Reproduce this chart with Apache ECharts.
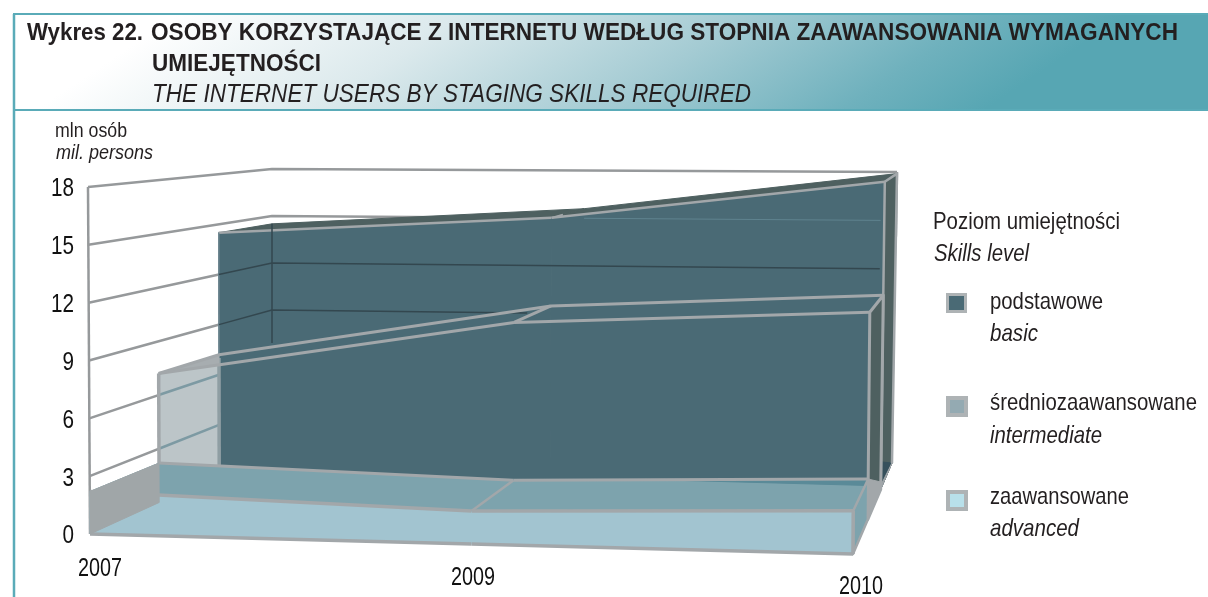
<!DOCTYPE html>
<html>
<head>
<meta charset="utf-8">
<title>Wykres 22</title>
<script src="https://cdn.jsdelivr.net/npm/echarts@6/dist/echarts.min.js"></script>
<style>
  html, body { margin: 0; padding: 0; background: #fff; }
  #chart { width: 1208px; height: 597px; }
</style>
</head>
<body>
<div id="chart"></div>
<script>
// dane (mln osob)
var years = ["2007", "2009", "2010"];
var basic = [14.5, 15.6, 17.9];
var intermediate = [7.2, 10.4, 11.3];
var advanced = [2.2, 1.7, 2.2];
var yTicks = [0, 3, 6, 9, 12, 15, 18];

var FONT = "'Liberation Sans', Arial, sans-serif";
var GRID = { left: 90, top: 189, width: 763, height: 347 };

// naroza pudelka 3D: [lewy, prawy] dla przodu/tylu, dol/gora
var BOX = {
  f0: [[90, 534], [853, 554]],
  f1: [[88, 187], [855, 200]],
  b0: [[272, 451], [892, 463]],
  b1: [[272, 169], [897, 172]]
};
var DEPTH = { adv: [0, 0.38], mid: [0.38, 0.71], bas: [0.71, 1] };

var GRAY = "#a2a7aa";
var C_BASIC = "#4a6a75";
var C_SIDE = "#4e6060";
var C_MID = "#7da3ad";
var C_ADV = "#a2c4d0";

var measureCtx = document.createElement("canvas").getContext("2d");

function mix(a, b, k) {
  return [a[0] + (b[0] - a[0]) * k, a[1] + (b[1] - a[1]) * k];
}
// t, v 0..1 (z osi), d 0..1 (glebokosc)
function project(t, v, d) {
  var f = mix(mix(BOX.f0[0], BOX.f0[1], t), mix(BOX.f1[0], BOX.f1[1], t), v);
  var b = mix(mix(BOX.b0[0], BOX.b0[1], t), mix(BOX.b1[0], BOX.b1[1], t), v);
  return mix(f, b, d);
}
// przez osie wykresu: kategoria + wartosc -> t, v
function at(api, i, val, d) {
  var c = api.coord([i, val]);
  return project((c[0] - GRID.left) / GRID.width, (GRID.top + GRID.height - c[1]) / GRID.height, d);
}
function poly(points, fill, stroke, w) {
  return {
    type: "polygon",
    shape: { points: points },
    style: { fill: fill, stroke: stroke || fill, lineWidth: w || 1, lineJoin: "round" }
  };
}
function line(points, stroke, w) {
  return {
    type: "polyline",
    shape: { points: points },
    style: { fill: null, stroke: stroke, lineWidth: w, lineJoin: "round" }
  };
}
// tekst zwezony do szerokosci z oryginalu
function label(x, y, text, size, width, opts) {
  opts = opts || {};
  var font = (opts.italic ? "italic " : "") + (opts.bold ? "bold " : "") + size + "px " + FONT;
  measureCtx.font = font;
  return {
    type: "text",
    x: x,
    y: y,
    scaleX: width / measureCtx.measureText(text).width,
    z: 20,
    style: {
      text: text,
      x: 0,
      y: 0,
      align: opts.align || "left",
      verticalAlign: "middle",
      font: font,
      fill: opts.fill || "#231f20"
    }
  };
}

// sciany, linie siatki i etykiety osi Y
function renderWalls(params, api) {
  var tick = api.value(1);
  var items = [];
  if (tick > 0) {
    items.push(line([at(api, 0, tick, 0), at(api, 0, tick, 1), at(api, 2, tick, 1)], "#96999b", 2.5));
  }
  if (params.dataIndex === 0) {
    items.push(line([at(api, 0, 0, 0), at(api, 0, 18, 0)], "#96999b", 2.5));
    items.push(line([at(api, 2, 14, 1), at(api, 2, 18, 1)], "#96999b", 2.5));
  }
  var p = at(api, 0, tick, 0);
  items.push(label(74, p[1] + 2.5, String(tick), 25, String(tick).length * 11.5, { align: "right", fill: "#111" }));
  return { type: "group", children: items };
}

// sciana przednia warstwy srodkowej (jasna, pod warstwa podstawowa)
function renderMidPanel(params, api) {
  var i = params.dataIndex;
  if (i === years.length - 1) return;
  var d = DEPTH.mid[0];
  var items = [poly([at(api, i, 0, d), at(api, i, intermediate[i], d), at(api, i + 1, intermediate[i + 1], d), at(api, i + 1, 0, d)], "#bcc5c8")];
  if (i === 0) {
    yTicks.forEach(function (tk) {
      if (tk > 0 && tk < intermediate[0]) {
        items.push(line([at(api, 0, tk, DEPTH.mid[0]), at(api, 0, tk, DEPTH.mid[1])], "#7d9aa3", 2.5));
      }
    });
    items.push(line([at(api, 0, 2, d), at(api, 0, intermediate[0], d)], GRAY, 3.5));
  }
  return { type: "group", children: items };
}

function renderBasic(params, api) {
  var i = params.dataIndex, last = years.length - 1;
  var d0 = DEPTH.bas[0], d1 = DEPTH.bas[1];
  var items = [];
  if (i < last) {
    items.push(poly([at(api, i, basic[i], d0), at(api, i, basic[i], d1), at(api, i + 1, basic[i + 1], d1), at(api, i + 1, basic[i + 1], d0)], C_SIDE));
    items.push(poly([at(api, i, 0, d0), at(api, i, basic[i], d0), at(api, i + 1, basic[i + 1], d0), at(api, i + 1, 0, d0)], C_BASIC));
    items.push(line([at(api, i, basic[i], d0), at(api, i + 1, basic[i + 1], d0)], GRAY, 2.5));
    if (i === 1) {
      var r = at(api, 1, basic[1], d0);
      items.push(line([r, mix(r, at(api, 1, basic[1], d1), 0.35)], GRAY, 2));
    }
  } else {
    items.push(poly([at(api, i, 0, d0), at(api, i, basic[i], d0), at(api, i, basic[i], d1), at(api, i, 0, d1)], C_SIDE));
    items.push(poly([at(api, i, 0, d1), at(api, i, 1.6, d0), at(api, i, 0, d0)], "#36505c"));
    items.push(line([at(api, i, 0, d0), at(api, i, basic[i], d0), at(api, i, basic[i], d1), at(api, i, 0, d1)], GRAY, 2.5));
    // lewa krawedz warstwy
    items.push(line([at(api, 0, 7.2, d0), at(api, 0, basic[0], d0)], "#6f8791", 1.5));
    items.push(line([at(api, 0, 0.5, d0), at(api, 0, 7, d0)], "#8f9ea3", 3.5));
    // linie siatki widoczne przez warstwe
    items.push(line([at(api, 0, 6.9, 1), at(api, 0, basic[0], 1)], "#33474f", 1.5));
    items.push(line([at(api, 0, 12, d0), at(api, 0, 12, 1), mix(at(api, 0, 12, 1), at(api, 2, 12, 1), 0.975)], "#33474f", 1.5));
    items.push(line([at(api, 0, 9, d0), at(api, 0, 9, 1), mix(at(api, 0, 9, 1), at(api, 1, 9, 1), 0.82)], "#33474f", 1.5));
    items.push(line([at(api, 1, 15, 1), mix(at(api, 1, 15, 1), at(api, 2, 15, 1), 0.95)], "#5f838f", 1));
  }
  return { type: "group", children: items };
}

function renderMid(params, api) {
  var i = params.dataIndex, last = years.length - 1;
  var d0 = DEPTH.mid[0], d1 = DEPTH.mid[1];
  var items = [];
  if (i === 0) {
    var a = at(api, 0, intermediate[0], d0), b = at(api, 1, intermediate[1], d0);
    var c = at(api, 0, intermediate[0], d1);
    var k = (c[0] - a[0]) / (b[0] - a[0]);
    items.push(poly([a, c, mix(a, b, k)], "#a7adb0"));
  }
  if (i < last) {
    items.push(line([at(api, i, intermediate[i], d0), at(api, i + 1, intermediate[i + 1], d0)], GRAY, 3));
    items.push(line([at(api, i, intermediate[i], d1), at(api, i + 1, intermediate[i + 1], d1)], GRAY, 3));
  }
  if (i === last) {
    items.push(poly([at(api, i, 0, d0), at(api, i, intermediate[i], d0), at(api, i, intermediate[i], d1), at(api, i, 0, d1)], C_SIDE, GRAY, 3));
  } else {
    items.push(line([at(api, i, intermediate[i], d0), at(api, i, intermediate[i], d1)], GRAY, 3));
  }
  return { type: "group", children: items };
}

function renderAdvanced(params, api) {
  var i = params.dataIndex, last = years.length - 1;
  var d0 = DEPTH.adv[0], d1 = DEPTH.adv[1];
  var items = [];
  if (i === last) {
    // podloga z prawej strony
    items.push(poly([at(api, i, 0, 0), at(api, i, 0, 1), at(api, i, 0.2, 0.75), at(api, i, 2.2, 0.38)], GRAY));
  }
  if (i < last) {
    items.push(poly([at(api, i, 0, d0), at(api, i, advanced[i], d0), at(api, i + 1, advanced[i + 1], d0), at(api, i + 1, 0, d0)], C_ADV));
    items.push(poly([at(api, i, advanced[i], d0), at(api, i, advanced[i], d1), at(api, i + 1, advanced[i + 1], d1), at(api, i + 1, advanced[i + 1], d0)], C_MID));
    if (i === 1) {
      // ciemniejszy klin przy tylnej krawedzi
      var q = at(api, 2, advanced[2], d1);
      items.push(poly([mix(at(api, 1, advanced[1], d1), q, 0.4), q, at(api, 2, advanced[2] - 0.35, d1)], "#5a8a98"));
    }
    items.push(line([at(api, i, 0, d0), at(api, i + 1, 0, d0)], GRAY, 3.5));
    items.push(line([at(api, i, advanced[i], d0), at(api, i + 1, advanced[i + 1], d0)], GRAY, 3.5));
    items.push(line([at(api, i, advanced[i], d1), at(api, i + 1, advanced[i + 1], d1)], GRAY, 3));
  }
  if (i === 1) {
    items.push(line([at(api, i, advanced[i], d0), at(api, i, advanced[i], d1)], GRAY, 2.5));
  }
  if (i === 0) {
    items.push(poly([at(api, i, 0, d0), at(api, i, advanced[i], d0), at(api, i, advanced[i], d1), at(api, i, 0, d1)], "#a0a6a8"));
  }
  if (i === last) {
    items.push(poly([at(api, i, 0, d0), at(api, i, advanced[i], d0), at(api, i, advanced[i], d1), at(api, i, 0, d1)], C_MID, GRAY, 2.5));
    items.push(line([at(api, i, 0, d0), at(api, i, advanced[i], d0)], GRAY, 3.5));
  }
  // etykieta roku pod przednia krawedzia
  var p = at(api, i, 0, 0);
  items.push(label(p[0] + [10, 1.5, 8][i], p[1] + [35, 34, 33][i], years[i], 25, 44, { align: "center", fill: "#111" }));
  return { type: "group", children: items };
}

function rows(values) {
  return years.map(function (y, i) { return [i, values[i]]; });
}
function custom(name, values, render, z) {
  return {
    name: name,
    type: "custom",
    coordinateSystem: "cartesian2d",
    clip: false,
    silent: true,
    z: z,
    data: rows(values),
    renderItem: render
  };
}
function legendEntry(name, top, color, border) {
  return {
    data: [name],
    left: 946,
    top: top,
    padding: 0,
    selectedMode: false,
    itemWidth: 18,
    itemHeight: 17,
    icon: "rect",
    itemStyle: { color: color, borderColor: "#aeb3b5", borderWidth: border },
    formatter: function () { return ""; }
  };
}

var chart = echarts.init(document.getElementById("chart"));
var option = {
  animation: false,
  backgroundColor: "#fff",
  grid: { left: GRID.left, top: GRID.top, width: GRID.width, height: GRID.height },
  xAxis: { type: "category", data: years, boundaryGap: false, show: false },
  yAxis: {
    type: "value",
    min: 0,
    max: 18,
    interval: 3,
    splitLine: { show: false },
    axisLine: { show: false },
    axisTick: { show: false },
    axisLabel: { show: false }
  },
  legend: [
    legendEntry("podstawowe", 293, C_BASIC, 3),
    legendEntry("średniozaawansowane", 396, "#94aab2", 4),
    legendEntry("zaawansowane", 490, "#b8e0ea", 4)
  ],
  series: [
    {
      name: "siatka",
      type: "custom",
      coordinateSystem: "cartesian2d",
      clip: false,
      silent: true,
      z: 1,
      data: yTicks.map(function (t) { return [0, t]; }),
      renderItem: renderWalls
    },
    custom("panel", intermediate, renderMidPanel, 2),
    custom("podstawowe", basic, renderBasic, 3),
    custom("średniozaawansowane", intermediate, renderMid, 4),
    custom("zaawansowane", advanced, renderAdvanced, 5)
  ],
  graphic: {
    elements: [
      {
        type: "rect",
        shape: { x: 14, y: 14, width: 1194, height: 96 },
        style: {
          fill: new echarts.graphic.LinearGradient(200, 0, 492, 438, [
            { offset: 0, color: "#ffffff" },
            { offset: 0.3, color: "#dbe9ec" },
            { offset: 0.6, color: "#a4cbd3" },
            { offset: 0.85, color: "#6fb1bd" },
            { offset: 1, color: "#57a6b3" }
          ], true)
        },
        z: 0
      },
      { type: "line", shape: { x1: 13, y1: 14, x2: 1208, y2: 14 }, style: { stroke: "#5aabb8", lineWidth: 2 }, z: 10 },
      { type: "line", shape: { x1: 14, y1: 110, x2: 1208, y2: 110 }, style: { stroke: "#5aabb8", lineWidth: 2 }, z: 10 },
      { type: "line", shape: { x1: 14, y1: 14, x2: 14, y2: 597 }, style: { stroke: "#5aabb8", lineWidth: 2.5 }, z: 10 },
      label(27, 33, "Wykres 22.", 24, 116, { bold: true }),
      label(151, 33, "OSOBY KORZYSTAJĄCE Z INTERNETU WEDŁUG STOPNIA ZAAWANSOWANIA WYMAGANYCH", 24, 1027, { bold: true }),
      label(152, 64, "UMIEJĘTNOŚCI", 24, 169, { bold: true }),
      label(152, 95, "THE INTERNET USERS BY STAGING SKILLS REQUIRED", 25, 599, { italic: true }),
      label(55, 131, "mln osób", 20, 72),
      label(56, 153, "mil. persons", 20, 97, { italic: true }),
      label(933, 222, "Poziom umiejętności", 24, 187),
      label(934, 254, "Skills level", 24, 95, { italic: true }),
      label(990, 302, "podstawowe", 24, 113),
      label(990, 334, "basic", 24, 48, { italic: true }),
      label(990, 403, "średniozaawansowane", 24, 207),
      label(990, 436, "intermediate", 24, 112, { italic: true }),
      label(990, 497, "zaawansowane", 24, 139),
      label(990, 529, "advanced", 24, 89, { italic: true })
    ]
  }
};
chart.setOption(option);
</script>
</body>
</html>
